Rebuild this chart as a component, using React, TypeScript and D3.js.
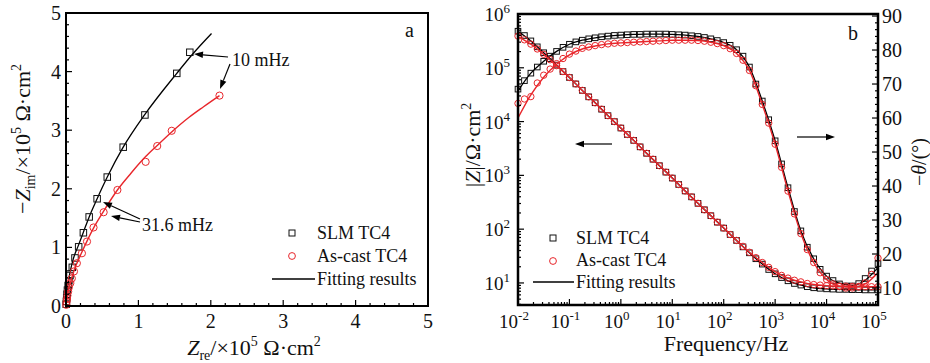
import React from "react";
import * as d3 from "d3";

const FONT = "'Liberation Serif', 'Times New Roman', serif";
const RED = "#e8262b";

// ---- panel a : Nyquist (x10^5 ohm cm2)
const slmRe = [0.003, 0.006, 0.01, 0.015, 0.02, 0.03, 0.04, 0.055, 0.087, 0.124, 0.175, 0.24, 0.32, 0.43, 0.57, 0.79, 1.09, 1.53, 1.71];
const slmIm = [0.03, 0.08, 0.14, 0.2, 0.27, 0.35, 0.43, 0.52, 0.66, 0.82, 1.01, 1.25, 1.52, 1.83, 2.2, 2.71, 3.26, 3.97, 4.33];
const castRe = [0.003, 0.008, 0.014, 0.02, 0.03, 0.04, 0.06, 0.08, 0.11, 0.15, 0.22, 0.29, 0.38, 0.52, 0.71, 1.1, 1.26, 1.46, 2.12];
const castIm = [0.02, 0.07, 0.12, 0.18, 0.25, 0.32, 0.39, 0.47, 0.59, 0.73, 0.9, 1.1, 1.34, 1.6, 1.98, 2.46, 2.73, 2.99, 3.59];
const slmFitRe = [0, 0.01, 0.03, 0.06, 0.1, 0.17, 0.24, 0.32, 0.43, 0.57, 0.79, 1.09, 1.53, 1.75, 2.01];
const slmFitIm = [0, 0.2, 0.4, 0.6, 0.8, 1.03, 1.26, 1.52, 1.83, 2.2, 2.71, 3.27, 3.97, 4.3, 4.65];
const castFitRe = [0, 0.02, 0.05, 0.11, 0.22, 0.38, 0.52, 0.71, 0.9, 1.1, 1.26, 1.46, 1.7, 1.9, 2.12];
const castFitIm = [0, 0.18, 0.35, 0.6, 0.92, 1.33, 1.62, 1.98, 2.27, 2.55, 2.74, 2.97, 3.22, 3.4, 3.59];

// ---- panel b : Bode
const logFreq = [
  -2, -1.875, -1.75, -1.625, -1.5, -1.375, -1.25, -1.125, -1, -0.875, -0.75, -0.625, -0.5, -0.375, -0.25, -0.125,
  0, 0.125, 0.25, 0.375, 0.5, 0.625, 0.75, 0.875, 1, 1.125, 1.25, 1.375, 1.5, 1.625, 1.75, 1.875,
  2, 2.125, 2.25, 2.375, 2.5, 2.625, 2.75, 2.875, 3, 3.125, 3.25, 3.375, 3.5, 3.625, 3.75, 3.875,
  4, 4.125, 4.25, 4.375, 4.5, 4.625, 4.75, 4.875, 5,
];
const slmLogZ = [
  5.68, 5.6, 5.5, 5.39, 5.28, 5.17, 5.05, 4.93, 4.82, 4.7, 4.58, 4.46, 4.35, 4.23, 4.11, 4.0,
  3.88, 3.76, 3.65, 3.53, 3.41, 3.3, 3.18, 3.06, 2.95, 2.83, 2.71, 2.6, 2.48, 2.36, 2.25, 2.13,
  2.02, 1.9, 1.79, 1.67, 1.56, 1.45, 1.35, 1.25, 1.17, 1.1, 1.04, 0.99, 0.96, 0.93, 0.91, 0.9,
  0.89, 0.885, 0.88, 0.88, 0.875, 0.875, 0.87, 0.87, 0.87,
];
const castLogZ = [
  5.59, 5.52, 5.44, 5.35, 5.25, 5.15, 5.04, 4.93, 4.82, 4.7, 4.58, 4.46, 4.35, 4.23, 4.11, 4.0,
  3.88, 3.76, 3.65, 3.53, 3.41, 3.3, 3.18, 3.06, 2.95, 2.83, 2.71, 2.6, 2.48, 2.36, 2.25, 2.13,
  2.02, 1.9, 1.79, 1.68, 1.57, 1.47, 1.38, 1.29, 1.21, 1.14, 1.09, 1.05, 1.02, 0.99, 0.97, 0.96,
  0.95, 0.945, 0.94, 0.94, 0.935, 0.935, 0.93, 0.93, 0.93,
];
const slmPhase = [
  68.5, 71.0, 73.2, 75.0, 76.7, 78.2, 79.6, 80.8, 81.7, 82.4, 82.9, 83.3, 83.6, 83.9, 84.1, 84.3,
  84.4, 84.5, 84.6, 84.6, 84.7, 84.7, 84.7, 84.7, 84.6, 84.5, 84.4, 84.2, 84.0, 83.7, 83.3, 82.8,
  82.2, 81.4, 80.1, 78.2, 75.0, 70.0, 65.0, 59.5, 53.3, 46.5, 39.5, 32.5, 26.8, 22.0, 18.6, 15.5,
  13.5, 12.2, 11.2, 10.6, 10.6, 11.3, 12.8, 15.0, 17.2,
];
const castPhase = [
  64.3, 65.6, 66.3, 70.3, 72.6, 74.4, 76.0, 77.5, 78.8, 79.7, 80.5, 80.9, 81.3, 81.6, 81.8, 82.0,
  82.1, 82.2, 82.3, 82.4, 82.5, 82.6, 82.7, 82.8, 82.9, 82.9, 82.9, 82.9, 82.8, 82.6, 82.3, 81.9,
  81.3, 80.4, 79.0, 77.0, 74.0, 69.5, 64.0, 58.5, 52.3, 45.5, 38.5, 31.8, 26.0, 21.3, 17.5, 14.5,
  12.5, 11.2, 10.4, 10.0, 10.0, 10.3, 11.5, 14.0, 18.8,
];
const fitLogFreq = [-2, -1.75, -1.5, -1.25, -1, -0.75, -0.5, -0.25, 0, 0.25, 0.5, 0.75, 1, 1.25, 1.5, 1.75, 2, 2.25, 2.5, 2.75, 3, 3.25, 3.5, 3.75, 4, 4.25, 4.5, 4.75, 5];
const slmFitLogZ = [5.68, 5.5, 5.28, 5.05, 4.82, 4.58, 4.35, 4.11, 3.88, 3.65, 3.41, 3.18, 2.95, 2.71, 2.48, 2.25, 2.02, 1.79, 1.56, 1.35, 1.17, 1.04, 0.96, 0.91, 0.89, 0.88, 0.875, 0.87, 0.87];
const castFitLogZ = [5.58, 5.44, 5.25, 5.04, 4.82, 4.58, 4.35, 4.11, 3.88, 3.65, 3.41, 3.18, 2.95, 2.71, 2.48, 2.25, 2.02, 1.79, 1.57, 1.38, 1.21, 1.09, 1.02, 0.97, 0.95, 0.94, 0.935, 0.93, 0.93];
const slmFitPhase = [68.0, 73.2, 76.7, 79.6, 81.7, 82.9, 83.6, 84.1, 84.4, 84.6, 84.7, 84.7, 84.6, 84.4, 84.0, 83.3, 82.2, 80.1, 75.0, 65.0, 53.3, 39.5, 26.8, 18.6, 13.5, 11.4, 10.8, 12.3, 16.0];
const castFitPhase = [60.0, 66.8, 72.0, 75.8, 78.6, 80.3, 81.2, 81.8, 82.1, 82.3, 82.5, 82.7, 82.9, 82.9, 82.8, 82.3, 81.3, 79.0, 74.0, 64.0, 52.3, 38.5, 26.0, 17.5, 12.5, 10.5, 10.2, 11.2, 14.5];

const legendNames = ["SLM TC4", "As-cast TC4", "Fitting results"];
const aTicks = [0, 1, 2, 3, 4, 5];
const fDecades = [-2, -1, 0, 1, 2, 3, 4, 5];
const zDecades = [1, 2, 3, 4, 5, 6];
const phaseTicks = [10, 20, 30, 40, 50, 60, 70, 80, 90];

const PA = { left: 66, right: 428, top: 13, bottom: 306 };
const PB = { left: 518, right: 878, top: 14, bottom: 305 };

const xa = d3.scaleLinear().domain([0, 5]).range([PA.left, PA.right]);
const ya = d3.scaleLinear().domain([0, 5]).range([PA.bottom, PA.top]);
const xb = d3.scaleLog().domain([1e-2, 1e5]).range([PB.left, PB.right]);
const yb = d3.scaleLog().domain([Math.pow(10, 0.59), 1e6]).range([PB.bottom, PB.top]);
const yp = d3.scaleLinear().domain([5, 90.6]).range([PB.bottom, PB.top]);

const zip = (a: number[], b: number[]) => a.map((v, i) => [v, b[i]] as [number, number]);

const nyqLine = d3
  .line<[number, number]>()
  .x((d) => xa(d[0]))
  .y((d) => ya(d[1]))
  .curve(d3.curveMonotoneX);
const zLine = d3
  .line<[number, number]>()
  .x((d) => xb(Math.pow(10, d[0])))
  .y((d) => yb(Math.pow(10, d[1])))
  .curve(d3.curveMonotoneX);
const pLine = d3
  .line<[number, number]>()
  .x((d) => xb(Math.pow(10, d[0])))
  .y((d) => yp(d[1]))
  .curve(d3.curveMonotoneX);

function Sq({ x, y, s = 6 }: any) {
  return <rect x={x - s / 2} y={y - s / 2} width={s} height={s} fill="none" stroke="#111" strokeWidth={1} />;
}
function Ci({ x, y, r = 3.3 }: any) {
  return <circle cx={x} cy={y} r={r} fill="none" stroke={RED} strokeWidth={1} />;
}
function Arrow({ x1, y1, x2, y2 }: any) {
  const a = Math.atan2(y2 - y1, x2 - x1);
  const L = 9;
  const W = 3.2;
  const bx = x2 - L * Math.cos(a);
  const by = y2 - L * Math.sin(a);
  const px = -Math.sin(a) * W;
  const py = Math.cos(a) * W;
  return (
    <g>
      <line x1={x1} y1={y1} x2={bx} y2={by} stroke="#000" strokeWidth={1.2} />
      <polygon points={`${x2},${y2} ${bx + px},${by + py} ${bx - px},${by - py}`} fill="#000" />
    </g>
  );
}

export default function App() {
  // panel a ticks
  const aMinor = d3.range(0, 5.001, 0.2);
  // panel b minor ticks
  const fMinor: number[] = [];
  fDecades.slice(0, -1).forEach((e) => {
    for (let m = 2; m <= 9; m++) fMinor.push(m * Math.pow(10, e));
  });
  const zMinor: number[] = [];
  [0, 1, 2, 3, 4, 5].forEach((e) => {
    for (let m = 2; m <= 9; m++) {
      const v = m * Math.pow(10, e);
      if (v >= yb.domain()[0]) zMinor.push(v);
    }
  });
  const pMinor = d3.range(6, 90.1, 2).filter((v) => v % 10 !== 0);

  const slmPts = zip(slmRe, slmIm);
  const castPts = zip(castRe, castIm);

  return (
    <svg
      width={930}
      height={363}
      style={{ position: "absolute", left: 0, top: 0, background: "#fff" }}
      fontFamily={FONT}
    >
      {/* ================= panel a ================= */}
      <g>
        <path d={nyqLine(zip(slmFitRe, slmFitIm)) || ""} fill="none" stroke="#000" strokeWidth={1.3} />
        {slmPts.map((d, i) => (
          <Sq key={i} x={xa(d[0])} y={ya(d[1])} s={6.5} />
        ))}
        {castPts.map((d, i) => (
          <Ci key={i} x={xa(d[0])} y={ya(d[1])} r={3.6} />
        ))}
        <path d={nyqLine(zip(castFitRe, castFitIm)) || ""} fill="none" stroke={RED} strokeWidth={1.4} />

        {/* ticks */}
        {aMinor.map((v, i) => {
          const major = Math.abs(v - Math.round(v)) < 1e-6;
          const len = major ? 6 : 3;
          return (
            <g key={i} stroke="#000" strokeWidth={1.2}>
              <line x1={xa(v)} x2={xa(v)} y1={PA.bottom} y2={PA.bottom - len} />
              <line x1={PA.left} x2={PA.left + len} y1={ya(v)} y2={ya(v)} />
            </g>
          );
        })}
        <rect
          x={PA.left}
          y={PA.top}
          width={PA.right - PA.left}
          height={PA.bottom - PA.top}
          fill="none"
          stroke="#000"
          strokeWidth={2}
        />
        {aTicks.map((v) => (
          <g key={v} fontSize={20} fill="#111">
            <text x={xa(v)} y={328} textAnchor="middle">
              {v}
            </text>
            <text x={PA.left - 5} y={ya(v)} dy="0.35em" textAnchor="end">
              {v}
            </text>
          </g>
        ))}
        <text x={254} y={355} textAnchor="middle" fontSize={22} fill="#111">
          <tspan fontStyle="italic">Z</tspan>
          <tspan fontSize={14} dy={5}>re</tspan>
          <tspan dy={-5}>/×10</tspan>
          <tspan fontSize={14} dy={-9}>5</tspan>
          <tspan dy={9}> Ω·cm</tspan>
          <tspan fontSize={14} dy={-9}>2</tspan>
        </text>
        <text transform="translate(30,139) rotate(-90)" textAnchor="middle" fontSize={22} fill="#111">
          −<tspan fontStyle="italic">Z</tspan>
          <tspan fontSize={14} dy={5}>im</tspan>
          <tspan dy={-5}>/×10</tspan>
          <tspan fontSize={14} dy={-9}>5</tspan>
          <tspan dy={9}> Ω·cm</tspan>
          <tspan fontSize={14} dy={-9}>2</tspan>
        </text>
        <text x={405} y={37} fontSize={20} fill="#111">a</text>

        {/* annotations */}
        <text x={232} y={66} fontSize={18} fill="#111">10 mHz</text>
        <Arrow x1={228} y1={57} x2={194} y2={54} />
        <Arrow x1={230} y1={64} x2={220} y2={89} />
        <text x={142} y={231} fontSize={18} fill="#111">31.6 mHz</text>
        <Arrow x1={140} y1={219} x2={103} y2={202} />
        <Arrow x1={140} y1={222} x2={111} y2={216} />

        {/* legend */}
        <Sq x={292} y={233} s={6} />
        <Ci x={292} y={256} r={3.4} />
        <line x1={272} x2={315} y1={279} y2={279} stroke="#000" strokeWidth={1.3} />
        {legendNames.map((n, i) => (
          <text key={n} x={317} y={233 + i * 23} dy="0.35em" fontSize={18} fill="#111">
            {n}
          </text>
        ))}
      </g>

      {/* ================= panel b ================= */}
      <g>
        {/* black */}
        {logFreq.map((lf, i) => (
          <Sq key={"sz" + i} x={xb(Math.pow(10, lf))} y={yb(Math.pow(10, slmLogZ[i]))} s={5.6} />
        ))}
        {logFreq.map((lf, i) => (
          <Sq key={"sp" + i} x={xb(Math.pow(10, lf))} y={yp(slmPhase[i])} s={5.6} />
        ))}
        <path d={zLine(zip(fitLogFreq, slmFitLogZ)) || ""} fill="none" stroke="#000" strokeWidth={1.3} />
        <path d={pLine(zip(fitLogFreq, slmFitPhase)) || ""} fill="none" stroke="#000" strokeWidth={1.3} />
        {/* red */}
        {logFreq.map((lf, i) => (
          <Ci key={"cz" + i} x={xb(Math.pow(10, lf))} y={yb(Math.pow(10, castLogZ[i]))} r={3.2} />
        ))}
        {logFreq.map((lf, i) => (
          <Ci key={"cp" + i} x={xb(Math.pow(10, lf))} y={yp(castPhase[i])} r={3.2} />
        ))}
        <path d={zLine(zip(fitLogFreq, castFitLogZ)) || ""} fill="none" stroke={RED} strokeWidth={1.4} />
        <path d={pLine(zip(fitLogFreq, castFitPhase)) || ""} fill="none" stroke={RED} strokeWidth={1.4} />

        {/* ticks */}
        <g stroke="#000" strokeWidth={1.2}>
          {fDecades.map((e) => (
            <line key={"fM" + e} x1={xb(Math.pow(10, e))} x2={xb(Math.pow(10, e))} y1={PB.bottom} y2={PB.bottom - 6} />
          ))}
          {fMinor.map((v, i) => (
            <line key={"fm" + i} x1={xb(v)} x2={xb(v)} y1={PB.bottom} y2={PB.bottom - 3} />
          ))}
          {zDecades.map((e) => (
            <line key={"zM" + e} x1={PB.left} x2={PB.left + 6} y1={yb(Math.pow(10, e))} y2={yb(Math.pow(10, e))} />
          ))}
          {zMinor.map((v, i) => (
            <line key={"zm" + i} x1={PB.left} x2={PB.left + 3} y1={yb(v)} y2={yb(v)} />
          ))}
          {phaseTicks.map((v) => (
            <line key={"pM" + v} x1={PB.right} x2={PB.right - 6} y1={yp(v)} y2={yp(v)} />
          ))}
          {pMinor.map((v, i) => (
            <line key={"pm" + i} x1={PB.right} x2={PB.right - 3} y1={yp(v)} y2={yp(v)} />
          ))}
        </g>
        <rect
          x={PB.left}
          y={PB.top}
          width={PB.right - PB.left}
          height={PB.bottom - PB.top}
          fill="none"
          stroke="#000"
          strokeWidth={2.5}
        />
        {fDecades.map((e) => (
          <text key={"fl" + e} x={xb(Math.pow(10, e)) - 4} y={328} textAnchor="middle" fontSize={19} fill="#111">
            10<tspan fontSize={13} dy={-8}>{e}</tspan>
          </text>
        ))}
        {zDecades.map((e) => (
          <text key={"zl" + e} x={PB.left - 8} y={yb(Math.pow(10, e)) + 7} textAnchor="end" fontSize={19} fill="#111">
            10<tspan fontSize={13} dy={-8}>{e}</tspan>
          </text>
        ))}
        {phaseTicks.map((v) => (
          <text key={"pl" + v} x={PB.right + 4} y={yp(v)} dy="0.35em" fontSize={20} fill="#111">
            {v}
          </text>
        ))}
        <text x={726} y={351} textAnchor="middle" fontSize={22} fill="#111">
          Frequency/Hz
        </text>
        <text transform="translate(480,145) rotate(-90)" textAnchor="middle" fontSize={22} fill="#111">
          |<tspan fontStyle="italic">Z</tspan>|/Ω·cm<tspan fontSize={14} dy={-9}>2</tspan>
        </text>
        <text transform="translate(926,162) rotate(-90)" textAnchor="middle" fontSize={20} fill="#111">
          −<tspan fontStyle="italic">θ</tspan>/(°)
        </text>
        <text x={848} y={40} fontSize={20} fill="#111">b</text>

        <Arrow x1={612} y1={144} x2={575} y2={144} />
        <Arrow x1={797} y1={137} x2={835} y2={137} />

        {/* legend */}
        <Sq x={553} y={238} s={6} />
        <Ci x={553} y={261} r={3.4} />
        <line x1={533} x2={574} y1={282} y2={282} stroke="#000" strokeWidth={1.3} />
        {legendNames.map((n, i) => (
          <text key={n} x={576} y={238 + i * 22} dy="0.35em" fontSize={18} fill="#111">
            {n}
          </text>
        ))}
      </g>
    </svg>
  );
}
